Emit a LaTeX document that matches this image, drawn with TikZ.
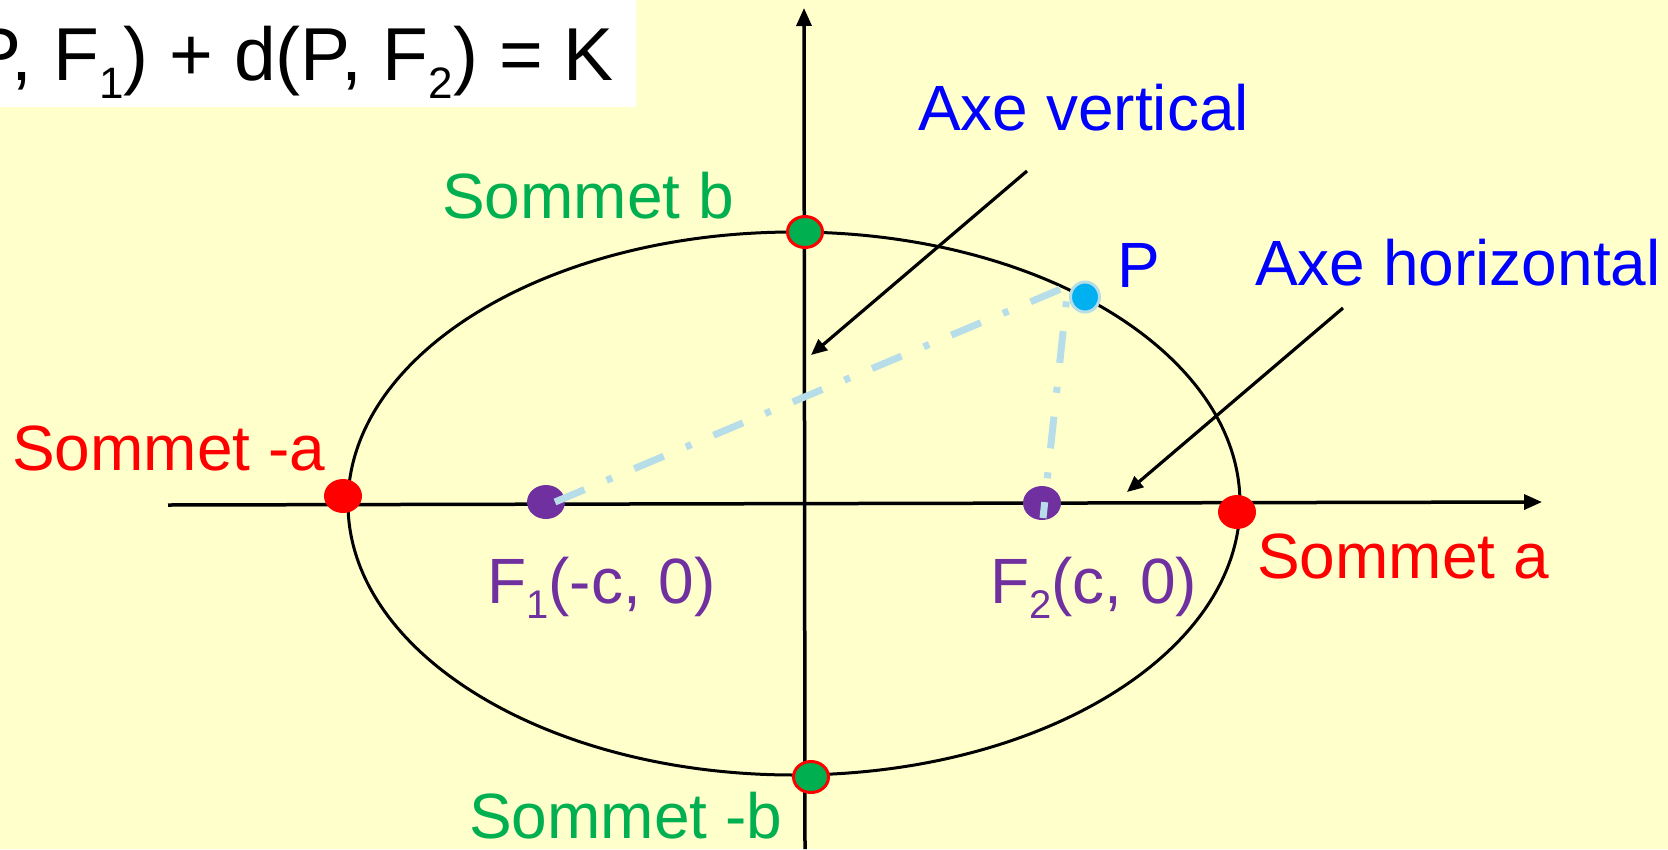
\documentclass[tikz,border=0pt]{standalone}
\usepackage{fontspec}
\setmainfont{Liberation Sans}
\usetikzlibrary{arrows.meta,shapes.geometric}
\definecolor{bgyel}{RGB}{255,255,204}
\definecolor{sred}{RGB}{255,0,0}
\definecolor{sgreen}{RGB}{0,176,80}
\definecolor{sblue}{RGB}{0,0,255}
\definecolor{spurple}{RGB}{112,48,160}
\definecolor{scyan}{RGB}{0,176,240}
\definecolor{slight}{RGB}{183,222,232}
\newcommand\sublow[1]{\raisebox{-15pt}{\fontsize{40}{40}\selectfont #1}}
\newcommand\sublowbig[1]{\raisebox{-18pt}{\fontsize{44}{44}\selectfont #1}}
\begin{document}
\begin{tikzpicture}[x=1pt,y=-1pt,
  lbl/.style={inner sep=0pt, anchor=base west, font=\fontsize{64}{70}\selectfont},
  vdot/.style={ellipse, inner sep=0pt, minimum width=38pt, minimum height=34pt},
  ringdot/.style={ellipse, inner sep=0pt, line width=3pt, minimum width=35pt, minimum height=31pt},
  axisline/.style={line width=3.5pt, -{Triangle[length=18pt,width=15pt]}},
  pointer/.style={line width=3.2pt, -{Triangle[length=16pt,width=14pt]}},
  dashdot/.style={slight, line width=7pt, dash pattern=on 32pt off 24pt on 6pt off 24pt}]
\useasboundingbox (0,0) rectangle (1668,849);
\fill[bgyel] (0,0) rectangle (1668,849);
\clip (0,0) rectangle (1668,849);
\fill[white] (0,0) rectangle (636,107);
\node[lbl, anchor=base east, font=\fontsize{75}{80}\selectfont] (eq) at (614,80) {P, F\sublowbig{1}) + d(P, F\sublowbig{2}) = K};
% axes
\coordinate (hx0) at (168,505);
\coordinate (hx1) at (1542,502);
\coordinate (vy0) at (805,849);
\coordinate (vy1) at (804,8);
\draw[axisline] (hx0) -- (hx1);
\draw[axisline] (vy0) -- (vy1);
% ellipse
\draw[line width=3pt] (794,503.5) ellipse [x radius=446pt, y radius=271.5pt];
% pointers
\coordinate (av0) at (1027,171);
\coordinate (av1) at (811,355);
\coordinate (ah0) at (1343,308);
\coordinate (ah1) at (1127,492);
\draw[pointer] (av0) -- (av1);
\draw[pointer] (ah0) -- (ah1);
% dots
\node[vdot, fill=sred] (sma) at (343,496) {};
\node[vdot, fill=sred] (sa) at (1237,512) {};
\node[ringdot, fill=sgreen, draw=sred] (sb) at (805,232) {};
\node[ringdot, fill=sgreen, draw=sred] (smb) at (811,777) {};
\node[vdot, fill=spurple] (f1) at (546,502) {};
\node[vdot, fill=spurple] (f2) at (1042,503) {};
\node[ellipse, inner sep=0pt, fill=scyan, draw=slight, line width=3pt, minimum width=29pt, minimum height=30pt] (p) at (1085,297) {};
% dash-dot distances
\coordinate (d1) at (555,502);
\coordinate (dc) at (1068,286);
\coordinate (d2) at (1043,518);
\draw[dashdot] (d1) -- (dc) -- (d2);
% labels
\node[lbl, text=sblue] (axv) at (918,130) {Axe vertical};
\node[lbl, text=sblue] (axh) at (1255,285) {Axe horizontal};
\node[lbl, text=sblue] (pl) at (1117,287) {P};
\node[lbl, text=sgreen] (lsb) at (442,218) {Sommet b};
\node[lbl, text=sred] (lsma) at (12,470) {Sommet -a};
\node[lbl, text=sred] (lsa) at (1257,578) {Sommet a};
\node[lbl, text=spurple] (lf1) at (487,603) {F\sublow{1}(-c, 0)};
\node[lbl, text=spurple] (lf2) at (990,603) {F\sublow{2}(c, 0)};
\node[lbl, text=sgreen] (lsmb) at (469,838) {Sommet -b};
\end{tikzpicture}
\end{document}
